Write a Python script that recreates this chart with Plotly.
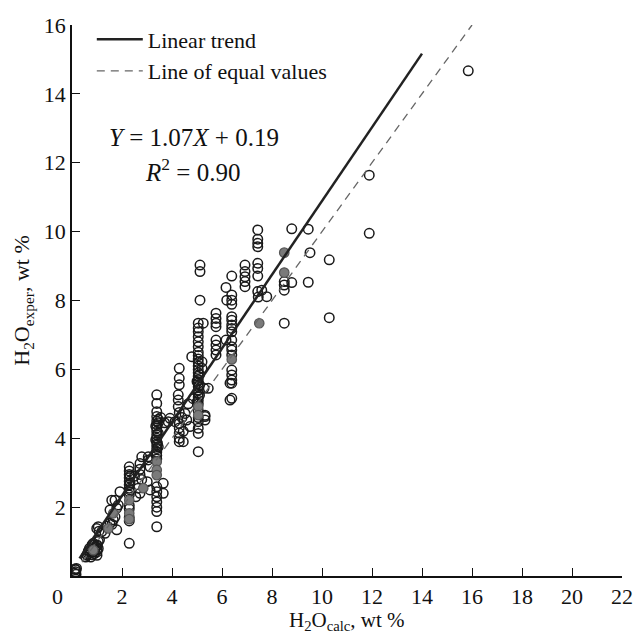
import plotly.graph_objects as go

# ---------------- data ----------------
open_x = [
    # x ~ 0.15
    0.12, 0.15, 0.15, 0.18, 0.12, 0.16,
    # x 0.5-1.2 dense
    0.55, 0.6, 0.65, 0.7, 0.72, 0.75, 0.8, 0.85, 0.9, 0.95, 1.0, 1.05, 0.7, 0.8,
    1.05, 1.0, 0.65, 0.75, 0.9, 1.1, 0.85, 0.6, 1.0, 1.0, 1.0, 0.99, 1.05, 1.08, 1.19,
    # x 1.3-2.0
    1.32, 1.52, 1.65, 1.72, 1.79, 1.59, 1.72, 1.92, 1.52, 1.85, 1.79, 1.4, 1.6,
    # x ~ 2.3
    2.29, 2.29, 2.29, 2.29, 2.29, 2.29, 2.29, 2.29, 2.29, 2.29, 2.29, 2.29, 2.29,
    2.32, 2.32, 2.32, 2.29,
    # x 2.5-3.1
    2.72, 2.72, 2.72, 2.79, 2.79, 2.65, 3.05, 3.12, 3.01, 3.05, 3.12, 2.72, 2.5, 2.55,
    # x ~ 3.4
    3.39, 3.39, 3.39, 3.39, 3.39, 3.39, 3.39, 3.39, 3.39, 3.39, 3.39, 3.39, 3.39,
    3.39, 3.39, 3.39, 3.45, 3.35, 3.45, 3.35, 3.45, 3.35, 3.42,
    3.39, 3.39, 3.39, 3.39, 3.39, 3.39, 3.39, 3.45,
    3.65, 3.65, 3.85, 3.92, 3.55, 3.7,
    # x ~ 4.3
    4.25, 4.25, 4.25, 4.29, 4.29, 4.29, 4.29, 4.29, 4.29, 4.29, 4.29, 4.29,
    4.45, 4.45, 4.12, 4.4,
    # x 4.5-4.9
    4.59, 4.72, 4.52, 4.79, 4.65, 4.85,
    # x ~ 5.05
    5.05, 5.05, 5.05, 5.05, 5.05, 5.05, 5.05, 5.05, 5.05, 5.05, 5.05, 5.05, 5.05,
    5.05, 5.05, 5.05, 5.05, 5.05, 5.05, 5.05, 5.05, 5.05, 5.05, 5.05, 5.05, 5.05,
    5.05, 5.1, 5.1, 5.1, 5.0, 5.0, 5.12, 5.12, 5.12, 5.05,
    5.25, 5.32, 5.32, 5.28, 5.32, 5.2, 5.2,
    # x ~ 5.75
    5.76, 5.76, 5.76, 5.76, 5.76, 5.76, 5.76, 5.76, 5.45,
    # x ~ 6.2-6.4
    6.16, 6.19, 6.16, 6.39, 6.39, 6.39, 6.39, 6.39, 6.39, 6.39, 6.39, 6.39, 6.39,
    6.39, 6.39, 6.39, 6.39, 6.39, 6.39, 6.39, 6.39, 6.32, 6.32,
    # x ~ 6.9
    6.92, 6.92, 6.92, 6.92, 6.92,
    # x ~ 7.4-7.8
    7.43, 7.43, 7.43, 7.43, 7.43, 7.43, 7.43, 7.43, 7.45, 7.59, 7.79,
    # x ~ 8.5 and beyond
    8.49, 8.49, 8.49, 8.49, 8.79, 8.79,
    9.45, 9.52, 9.45, 10.29, 10.29, 11.89, 11.89, 15.85,
]
open_y = [
    0.08, 0.12, 0.18, 0.22, 0.2, 0.05,
    0.55, 0.6, 0.65, 0.7, 0.72, 0.75, 0.62, 0.7, 0.8, 0.85, 0.9, 1.0, 0.8, 0.9,
    0.8, 0.7, 0.72, 0.55, 0.65, 1.05, 0.95, 0.62, 0.6, 0.75, 0.87, 1.38, 1.43, 1.3, 1.29,
    1.24, 1.53, 1.63, 1.72, 1.34, 2.2, 2.2, 2.45, 1.92, 2.06, 1.97, 1.45, 1.5,
    3.17, 3.05, 2.95, 2.85, 2.75, 2.65, 2.55, 2.45, 2.35, 2.05, 1.95, 1.6, 1.7,
    2.9, 2.7, 2.5, 0.95,
    3.27, 3.1, 2.95, 3.46, 2.8, 2.55, 3.46, 3.17, 2.74, 3.37, 2.5, 2.4, 2.9, 2.3,
    5.26, 5.01, 4.77, 4.63, 4.5, 4.4, 4.3, 4.2, 4.1, 4.0, 3.9, 3.8, 3.7,
    3.6, 3.5, 3.4, 4.55, 4.35, 4.15, 3.95, 3.75, 3.55, 3.85,
    2.59, 2.45, 2.3, 2.15, 2.0, 1.87, 1.43, 4.45,
    2.69, 2.4, 4.48, 4.58, 4.6, 4.45,
    5.26, 5.11, 4.92, 4.43, 4.3, 4.15, 4.0, 3.9, 6.03, 5.74, 5.55, 4.75,
    4.2, 3.9, 4.48, 4.6,
    4.53, 4.34, 4.72, 6.37, 5.0, 5.15,
    4.14, 4.29, 4.48, 4.6, 4.8, 5.0, 5.1, 5.2, 5.3, 5.4, 5.5, 5.6, 5.7,
    5.8, 5.9, 6.0, 6.1, 6.2, 6.3, 6.4, 6.5, 6.66, 6.8, 6.95, 7.09, 7.2,
    7.34, 5.25, 5.55, 5.85, 5.05, 5.65, 8.01, 8.84, 9.03, 3.61,
    7.34, 4.67, 4.53, 5.45, 4.63, 6.03, 6.22,
    7.63, 7.48, 7.34, 7.24, 6.85, 6.71, 6.56, 6.42, 5.45,
    8.38, 8.01, 6.85, 8.71, 8.16, 8.01, 7.89, 7.53, 7.43, 7.29, 7.19, 7.09,
    6.85, 6.66, 6.56, 6.42, 5.98, 5.84, 5.69, 5.6, 5.16, 5.6, 5.11,
    9.03, 8.84, 8.69, 8.55, 8.4,
    10.05, 9.78, 9.66, 9.56, 9.08, 8.93, 8.71, 8.26, 8.1, 8.3, 8.11,
    8.55, 8.45, 8.3, 7.34, 8.52, 10.08,
    10.07, 9.39, 8.53, 9.18, 7.5, 11.64, 9.95, 14.67,
]

grey_x = [0.85, 1.45, 1.65, 2.29, 2.29, 2.29, 2.85, 3.39, 3.39, 3.39, 5.05, 5.05, 6.39, 7.49, 8.49, 8.49]
grey_y = [0.75, 1.38, 1.82, 2.2, 1.82, 1.65, 2.55, 3.32, 3.08, 2.93, 4.92, 4.67, 6.29, 7.34, 9.39, 8.81]

trend_x = [0.3, 14.0]
slope, intercept = 1.07, 0.19
trend_y = [slope * v + intercept for v in trend_x]
equal_x = [0.4, 16.0]
equal_y = list(equal_x)

x_ticks = [2, 4, 6, 8, 10, 12, 14, 16, 18, 20, 22]
y_ticks = [2, 4, 6, 8, 10, 12, 14, 16]

FONT = "Liberation Serif"

fig = go.Figure()
fig.add_trace(go.Scatter(
    x=open_x, y=open_y, mode="markers", showlegend=False,
    marker=dict(symbol="circle-open", size=9.5, color="#1a1a1a", line=dict(width=1.5)),
))
fig.add_trace(go.Scatter(
    x=grey_x, y=grey_y, mode="markers", showlegend=False,
    marker=dict(symbol="circle", size=9.5, color="#7a7a7a", line=dict(width=1.2, color="#555555")),
))
fig.add_trace(go.Scatter(
    x=trend_x, y=trend_y, mode="lines", name="Linear trend",
    line=dict(color="#222222", width=2.5),
))
fig.add_trace(go.Scatter(
    x=equal_x, y=equal_y, mode="lines", name="Line of equal values",
    line=dict(color="#666666", width=1.3, dash="8px,6px"),
))

axis_common = dict(
    showgrid=False, zeroline=False, showline=True, linecolor="#111", linewidth=1.6,
    ticks="inside", ticklen=8, tickwidth=1.4, tickcolor="#111",
    tickfont=dict(family=FONT, size=22, color="#111"),
)
fig.update_xaxes(
    range=[0, 22], tickvals=x_ticks, ticktext=[str(v) for v in x_ticks],
    **axis_common,
)
fig.update_yaxes(
    range=[0, 16], tickvals=y_ticks, ticktext=[str(v) for v in y_ticks],
    title=dict(text="H<sub>2</sub>O<sub>exper</sub>, wt %", font=dict(family=FONT, size=22, color="#111"), standoff=8),
    **axis_common,
)

# x-axis title (placed as annotation so it can sit slightly lower, as in the reference)
fig.add_annotation(
    text="H<sub>2</sub>O<sub>calc</sub>, wt %", xref="paper", yref="paper",
    x=0.5, y=(576 - 621) / 551, showarrow=False,
    xanchor="center", yanchor="middle", font=dict(family=FONT, size=21, color="#111"),
)
fig.add_annotation(
    text="0", xref="paper", yref="paper", x=-0.0255, y=-0.038, showarrow=False,
    xanchor="center", yanchor="middle", font=dict(family=FONT, size=22, color="#111"),
)
fig.add_annotation(
    text="<i>Y</i> = 1.07<i>X</i> + 0.19", xref="paper", yref="paper",
    x=(107 - 72) / 550, y=(576 - 138) / 551, showarrow=False,
    xanchor="left", yanchor="middle", font=dict(family=FONT, size=25, color="#111"),
)
fig.add_annotation(
    text="<i>R</i><sup>2</sup> = 0.90", xref="paper", yref="paper",
    x=(143 - 72) / 550, y=(576 - 170) / 551, showarrow=False,
    xanchor="left", yanchor="middle", font=dict(family=FONT, size=25, color="#111"),
)

fig.update_layout(
    width=636, height=633,
    margin=dict(l=72, r=14, t=25, b=57, autoexpand=False),
    plot_bgcolor="white", paper_bgcolor="white",
    legend=dict(
        x=0.036, y=1.012, xanchor="left", yanchor="top",
        font=dict(family=FONT, size=22, color="#111"),
        bgcolor="rgba(0,0,0,0)", itemwidth=46, tracegroupgap=0,
    ),
)

fig.write_html("out.html")
